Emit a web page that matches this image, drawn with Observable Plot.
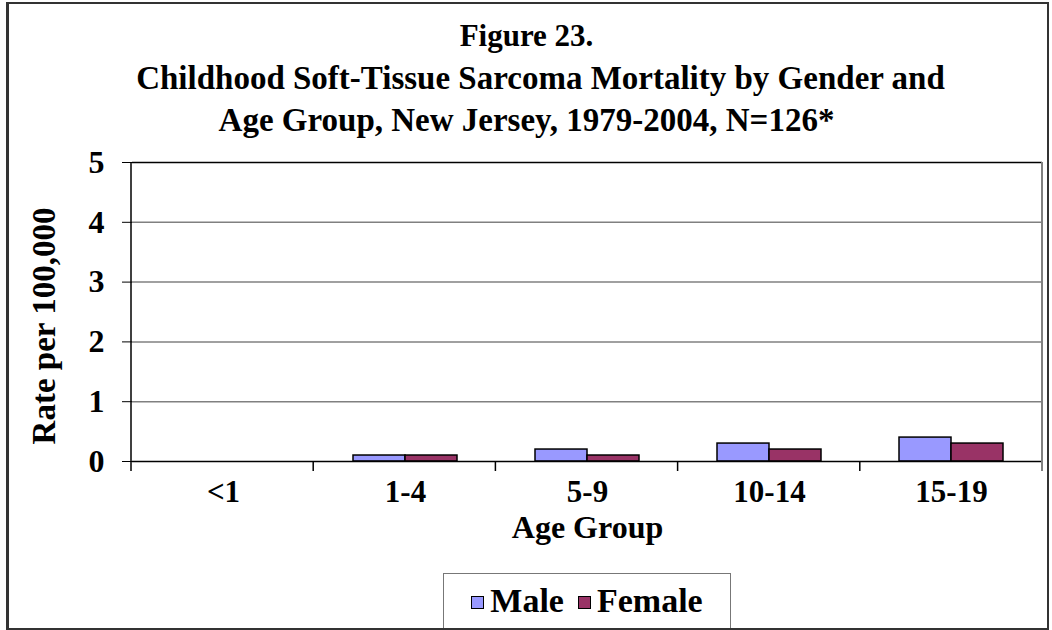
<!DOCTYPE html>
<html>
<head>
<meta charset="utf-8">
<script src="https://cdn.jsdelivr.net/npm/d3@7"></script>
<script src="https://cdn.jsdelivr.net/npm/@observablehq/plot@0.6"></script>
<style>
  html, body { margin: 0; padding: 0; background: #fff; }
  body { width: 1052px; height: 630px; position: relative; overflow: hidden;
         font-family: "Liberation Serif", "Times New Roman", serif; font-weight: bold; color: #000; }
  #frame { position: absolute; left: 6px; top: 2px; width: 1038px; height: 624px;
           border: 2px solid #333; border-left-width: 3px; box-sizing: content-box; }
  #title { position: absolute; left: 6px; width: 1041px; top: 14px; text-align: center;
           font-size: 33px; line-height: 42px; }
  #title .l1 { font-size: 31px; }
  #title .l2 { position: relative; left: 14px; }
  #chart { position: absolute; left: 0; top: 140px; }
  #legend { position: absolute; left: 443px; top: 573px; width: 288px; height: 55px;
            border: 1.5px solid #777; border-bottom: none; box-sizing: border-box;
            display: flex; align-items: center; justify-content: center; font-size: 34px; }
  .item { display: flex; align-items: center; margin: 0 7px; }
  .sw { width: 13px; height: 13px; border: 1.5px solid #000; box-sizing: border-box; margin-right: 6px; margin-top: 2px; }
</style>
</head>
<body>
<div id="frame"></div>
<div id="title"><span class="l1">Figure 23.</span><br><span class="l2">Childhood Soft-Tissue Sarcoma Mortality by Gender and</span><br>Age Group, New Jersey, 1979-2004, N=126*</div>
<div id="chart"></div>
<div id="legend"></div>
<script>
const ages = ["<1", "1-4", "5-9", "10-14", "15-19"];
const sexes = ["Male", "Female"];
const maleRates = [0, 0.1, 0.2, 0.3, 0.4];
const femaleRates = [0, 0.1, 0.1, 0.2, 0.3];
const colors = ["#9999FF", "#993366"];
const yTicks = [0, 1, 2, 3, 4, 5];
const yLabel = "Rate per 100,000";
const xLabel = "Age Group";

const rows = ages.flatMap((a, i) => [
  {age: a, sex: "Male", rate: maleRates[i]},
  {age: a, sex: "Female", rate: femaleRates[i]}
]);

const chart = Plot.plot({
  width: 1052,
  height: 440,
  marginTop: 22,
  marginBottom: 119,
  marginLeft: 131,
  marginRight: 10,
  style: {fontFamily: "'Liberation Serif', 'Times New Roman', serif", fontSize: "32px",
          fontWeight: "bold", background: "transparent", color: "#000", overflow: "visible"},
  facet: {data: rows, x: "age", marginTop: 0, marginBottom: 0, marginLeft: 0, marginRight: 0},
  fx: {domain: ages, padding: 0, axis: "bottom", tickSize: 0, tickPadding: 18,
       label: xLabel, labelAnchor: "center", labelOffset: 76},
  x: {domain: sexes, paddingInner: 0, paddingOuter: 0.72, axis: null},
  y: {domain: [0, 5], ticks: yTicks, tickFormat: "d", tickSize: 10, tickPadding: 18,
      label: yLabel, labelAnchor: "center", labelOffset: 101, labelArrow: false},
  color: {domain: sexes, range: colors},
  marks: [
    Plot.ruleY(yTicks.slice(1, -1), {stroke: "#808080", strokeWidth: 1.5}),
    Plot.ruleY([yTicks[yTicks.length - 1]], {stroke: "#000", strokeWidth: 1.5}),
    Plot.barY(rows, {x: "sex", y: "rate", fill: "sex", stroke: "#000", strokeWidth: 1.5}),
    Plot.ruleY([0], {stroke: "#000", strokeWidth: 1.5})
  ]
});
document.getElementById("chart").appendChild(chart);

// slightly smaller category labels
d3.select(chart).selectAll("text")
  .filter(function () { return ages.includes(this.textContent); })
  .style("font-size", "31px");

// enlarge and nudge the y-axis title
d3.select(chart).selectAll("text")
  .filter(function () { return this.textContent === yLabel; })
  .style("font-size", "33px")
  .attr("transform", function () { return (this.getAttribute("transform") || "") + " translate(-14,0)"; });

// category boundary ticks and side lines, from the library's scales
(function () {
  const fx = chart.scale("fx");
  const y = chart.scale("y");
  const left = fx ? fx.range[0] : 131;
  const right = fx ? fx.range[1] : 1042;
  const bottom = y.range[0], top = y.range[1];
  const step = (right - left) / ages.length;
  const g = d3.select(chart).append("g");
  for (let i = 0; i <= ages.length; i++) {
    const x = left + i * step;
    const y1 = (i === 0 || i === ages.length) ? top : bottom;
    g.append("line").attr("x1", x).attr("x2", x).attr("y1", y1).attr("y2", bottom + 10)
      .attr("stroke", i === ages.length ? "#808080" : "#000").attr("stroke-width", i === ages.length ? 2 : 1.5);
  }
})();

// legend
const legend = d3.select("#legend");
sexes.forEach((s, i) => {
  const it = legend.append("div").attr("class", "item");
  it.append("div").attr("class", "sw").style("background", colors[i]);
  it.append("span").text(s);
});
</script>
</body>
</html>
